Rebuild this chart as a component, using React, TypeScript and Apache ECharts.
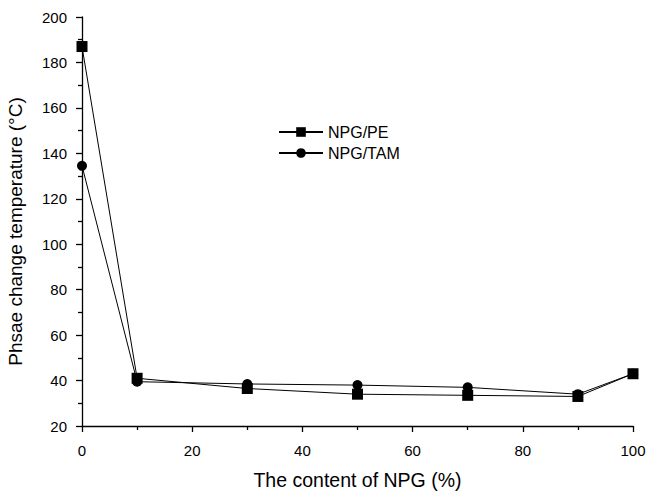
import React, { useEffect, useRef } from "react";
import * as echarts from "echarts";

const xValues = [0, 10, 30, 50, 70, 90, 100];
const pe = [187, 41, 36.5, 34, 33.5, 33, 43];
const tam = [134.5, 39.5, 38.5, 38, 37, 34, 43];
const seriesNames = ["NPG/PE", "NPG/TAM"];
const xTitle = "The content of NPG (%)";
const yTitle = "Phsae change temperature (\u00B0C)";

export default function App() {
  const ref = useRef<HTMLDivElement>(null);
  useEffect(() => {
    const chart = echarts.init(ref.current!, null, { renderer: "svg" });
    const font = "Liberation Sans, Arial, sans-serif";
    const axisCommon = {
      axisLine: { show: true, lineStyle: { color: "#000", width: 1.3 } },
      axisTick: { show: true, inside: false, length: 6, lineStyle: { color: "#000", width: 1.3 } },
      minorTick: { show: true, splitNumber: 2, length: 4, lineStyle: { color: "#000", width: 1.3 } },
      splitLine: { show: false },
      axisLabel: { color: "#000", fontSize: 15, fontFamily: font, margin: 14 },
      nameTextStyle: { color: "#000", fontSize: 19.5, fontFamily: font },
    };
    chart.setOption({
      animation: false,
      backgroundColor: "#fff",
      grid: { left: 82, right: 16, top: 17, bottom: 65, containLabel: false, outerBoundsMode: "none" },
      legend: {
        orient: "vertical",
        left: 278,
        top: 124,
        padding: 0,
        itemWidth: 44,
        itemHeight: 12,
        itemGap: 5,
        textStyle: { color: "#000", fontSize: 16, fontFamily: font },
        data: seriesNames,
      },
      xAxis: {
        type: "value",
        min: 0,
        max: 100,
        interval: 20,
        name: xTitle,
        nameLocation: "middle",
        nameGap: 44,
        ...axisCommon,
        axisLabel: { ...axisCommon.axisLabel, margin: 17 },
      },
      yAxis: {
        type: "value",
        min: 20,
        max: 200,
        interval: 20,
        name: yTitle,
        nameLocation: "middle",
        nameGap: 57,
        ...axisCommon,
        axisLabel: { ...axisCommon.axisLabel, margin: 15 },
        nameTextStyle: { ...axisCommon.nameTextStyle, fontSize: 19, padding: [0, 20, 0, 0] },
      },
      series: [
        {
          name: seriesNames[0],
          type: "line",
          data: xValues.map((x, i) => [x, pe[i]]),
          symbol: "rect",
          symbolSize: 11,
          itemStyle: { color: "#000" },
          lineStyle: { color: "#000", width: 1 },
        },
        {
          name: seriesNames[1],
          type: "line",
          data: xValues.map((x, i) => [x, tam[i]]),
          symbol: "circle",
          symbolSize: 10,
          itemStyle: { color: "#000" },
          lineStyle: { color: "#000", width: 1 },
        },
      ],
    });
    return () => chart.dispose();
  }, []);
  return <div ref={ref} style={{ width: 649, height: 491, position: "absolute", left: 0, top: 0 }} />;
}
